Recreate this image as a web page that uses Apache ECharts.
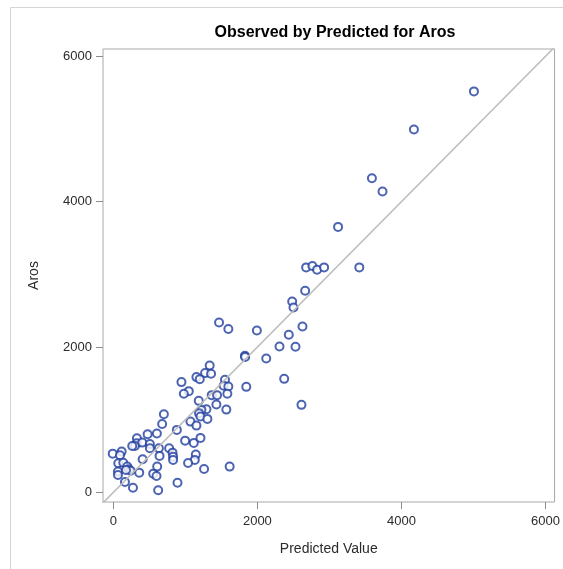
<!DOCTYPE html>
<html>
<head>
<meta charset="utf-8">
<script src="https://cdn.jsdelivr.net/npm/echarts@6/dist/echarts.min.js"></script>
<style>html,body{margin:0;padding:0;background:#fff;}#c{width:563px;height:569px;}</style>
</head>
<body>
<div id="c"></div>
<script>
var predicted = [5006,4173,3590,3737,3120,2677,2764,2829,2926,3415,2663,2483,2501,2626,2436,2307,2529,2372,2612,
1468,1597,1993,1827,1830,2123,1338,1274,1357,1154,1200,1550,946,1532,1597,1846,1048,979,1366,1440,1583,1186,1431,1569,1293,1223,1190,1210,1306,1071,1154,
702,678,882,605,476,328,323,300,402,263,508,508,633,775,822,830,830,642,997,1117,1210,1145,1131,1038,1260,1615,891,623,609,554,600,407,360,273,162,-8,116,93,69,138,194,213,241,65,65,176];
var observed = [5517,4993,4322,4139,3653,3096,3116,3065,3096,3096,2775,2628,2545,2284,2169,2008,2004,1563,1205,
2339,2248,2229,1880,1865,1843,1747,1642,1632,1587,1559,1550,1518,1467,1457,1453,1394,1357,1339,1339,1357,1260,1209,1140,1146,1136,1091,1044,1012,975,920,
1077,943,861,810,801,747,678,640,686,640,668,609,609,609,548,493,448,503,713,682,751,521,448,406,324,356,135,30,356,259,227,457,273,66,145,534,562,512,402,410,356,320,300,287,241,310];
var refLine = [-200, 6200];
var tickValues = [0, 2000, 4000, 6000];

var pts = predicted.map(function(v, i){ return [v, observed[i]]; });
var chart = echarts.init(document.getElementById('c'), null, {renderer:'canvas'});
function axisCommon(margin) {
  return {
    type: 'value',
    axisLine: {show: false, onZero: false},
    splitLine: {show: false},
    axisTick: {show: true, customValues: tickValues, length: 7, lineStyle: {color: '#8c8c8c'}},
    axisLabel: {customValues: tickValues, formatter: function(v){ return String(v); }, color: '#2b2b2b', fontSize: 13, fontFamily: 'Liberation Sans, Arial, sans-serif', margin: margin},
    nameTextStyle: {color: '#2b2b2b', fontSize: 14, fontFamily: 'Liberation Sans, Arial, sans-serif'}
  };
}
chart.setOption({
  animation: false,
  backgroundColor: '#fff',
  title: {
    text: 'Observed by Predicted for Aros',
    left: 330, top: 20, textAlign: 'center',
    textStyle: {fontSize: 16, fontWeight: 'bold', color: '#000', fontFamily: 'Liberation Sans, Arial, sans-serif'}
  },
  graphic: [{
    type: 'polyline', silent: true,
    shape: {points: [[10.5, 580], [10.5, 7.5], [600, 7.5]]},
    style: {stroke: '#d4d4d4', lineWidth: 1, fill: null}
  }],
  grid: {left: 103, top: 49, width: 453, height: 453, show: true, borderColor: '#a8a8a8', borderWidth: 1, containLabel: false},
  xAxis: Object.assign(axisCommon(13), {
    min: -143, max: 6125, name: 'Predicted Value', nameLocation: 'middle', nameGap: 40
  }),
  yAxis: Object.assign(axisCommon(11), {
    min: -131, max: 6100, name: 'Aros', nameLocation: 'middle', nameGap: 62
  }),
  series: [{
    type: 'line',
    data: [[refLine[0], refLine[0]], [refLine[1], refLine[1]]],
    symbol: 'none', clip: true, silent: true,
    lineStyle: {color: '#bcbcbc', width: 1.5}
  }, {
    type: 'scatter',
    data: pts,
    symbol: 'emptyCircle', symbolSize: 8,
    itemStyle: {color: '#1f3d9e', borderColor: '#1f3d9e', borderWidth: 1.4}
  }]
});
</script>
</body>
</html>
